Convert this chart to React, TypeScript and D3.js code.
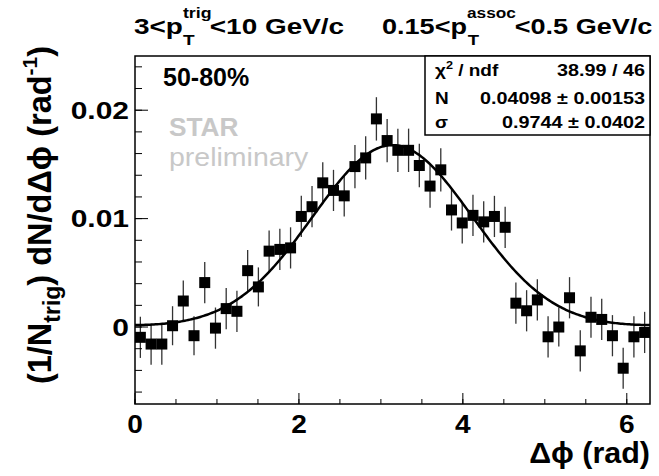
import React from "react";
import * as d3 from "d3";

const W = 659;
const H = 476;
const nBins = 48;
const binCenters = d3.range(nBins).map((i) => ((i + 0.5) * 2 * Math.PI) / nBins);
const yields = [
  -0.00095, -0.00157, -0.00157, 0.00012, 0.0024, -0.0008, 0.0041, -0.0001,
  0.0017, 0.00145, 0.0052, 0.0037, 0.007, 0.00716, 0.0073, 0.0102,
  0.0111, 0.0133, 0.0126, 0.0121, 0.0148, 0.0156, 0.0192, 0.0172,
  0.0163, 0.0163, 0.0149, 0.013, 0.0145, 0.0108, 0.0096, 0.0103,
  0.0097, 0.0102, 0.0092, 0.0022, 0.0015, 0.0025, -0.0009, 0.0,
  0.0027, -0.0022, 0.0009, 0.0007, -0.0008, -0.0038, -0.0009, -0.0005,
];
const errors = [
  0.0019, 0.0019, 0.0019, 0.0018, 0.0019, 0.0018, 0.0019, 0.0019,
  0.0019, 0.0019, 0.0019, 0.0018, 0.0019, 0.0019, 0.0019, 0.0019,
  0.0019, 0.0019, 0.0019, 0.0019, 0.0020, 0.0020, 0.0020, 0.0020,
  0.0020, 0.0020, 0.0020, 0.0020, 0.0020, 0.0019, 0.0019, 0.0019,
  0.0019, 0.0019, 0.0019, 0.0019, 0.0019, 0.0019, 0.0019, 0.0018,
  0.0019, 0.0019, 0.0019, 0.0019, 0.0019, 0.0019, 0.0019, 0.0019,
];
const fitN = 0.04098;
const fitSigma = 0.9744;
const xTicksMajor = [0, 2, 4, 6];
const xTickLabels = ["0", "2", "4", "6"];
const yTicksMajor = [0, 0.01, 0.02];
const yTickLabels = ["0", "0.01", "0.02"];
const statsLabels = ["χ", "N", "σ"];
const statsValues = ["38.99 / 46", "0.04098 ± 0.00153", "0.9744 ± 0.0402"];

const FONT = "'Liberation Sans', Arial, Helvetica, sans-serif";

export default function App() {
  const left = 135, right = 650, top = 56, bottom = 404;
  const x = d3.scaleLinear().domain([0, 2 * Math.PI]).range([left, right]);
  const y = d3.scaleLinear().domain([-0.0071, 0.025]).range([bottom, top]);

  const fit = (p: number) => {
    let s = 0;
    for (let k = -1; k <= 1; k++) {
      const d = p - Math.PI - 2 * Math.PI * k;
      s += Math.exp(-(d * d) / (2 * fitSigma * fitSigma));
    }
    return (fitN / (fitSigma * Math.sqrt(2 * Math.PI))) * s;
  };
  const curvePts = d3.range(0, 301).map((i) => (i / 300) * 2 * Math.PI);
  const line = d3
    .line<number>()
    .x((p) => x(p))
    .y((p) => y(fit(p)))
    .curve(d3.curveLinear);

  const xMinor = d3.range(0, 6.3, 0.5);
  const yMinor = d3.range(-6, 25, 2).map((v) => v / 1000);

  return (
    <svg
      width={W}
      height={H}
      style={{ position: "fixed", left: 0, top: 0, background: "#fff" }}
      fontFamily={FONT}
    >
      <rect x={0} y={0} width={W} height={H} fill="#fff" />
      <defs>
        <clipPath id="frameClip">
          <rect x={left} y={top} width={right - left} height={bottom - top} />
        </clipPath>
      </defs>

      {/* title */}
      <g transform={`translate(134,34) scale(1.27,1)`} fontWeight="bold" fontSize={22}>
        <text x={0} y={0}>
          3&lt;p
          <tspan fontSize={14} dy={-16}>trig</tspan>
          <tspan fontSize={15} dx={-22.5} dy={27}>T</tspan>
          <tspan dx={12} dy={-11}>&lt;10 GeV/c</tspan>
        </text>
      </g>
      <g transform={`translate(382,34) scale(1.23,1)`} fontWeight="bold" fontSize={22}>
        <text x={0} y={0}>
          0.15&lt;p
          <tspan fontSize={14} dy={-16}>assoc</tspan>
          <tspan fontSize={15} dx={-39} dy={27}>T</tspan>
          <tspan dx={29} dy={-11}>&lt;0.5 GeV/c</tspan>
        </text>
      </g>

      {/* y axis title */}
      <g transform={`translate(51,215) rotate(-90)`} fontWeight="bold" fontSize={32.5}>
        <text x={0} y={0} textAnchor="middle">
          (1/N
          <tspan fontSize={23} dy={9}>trig</tspan>
          <tspan dy={-9}>) dN/dΔϕ (rad</tspan>
          <tspan fontSize={21} dy={-14}>-1</tspan>
          <tspan dy={14}>)</tspan>
        </text>
      </g>

      {/* x axis title */}
      <g transform={`translate(650,463) scale(1.05,1)`} fontWeight="bold" fontSize={29}>
        <text x={0} y={0} textAnchor="end">Δϕ (rad)</text>
      </g>

      {/* labels */}
      <g transform={`translate(163,86)`} fontWeight="bold" fontSize={25}>
        <text>50-80%</text>
      </g>
      <g transform={`translate(169,136) scale(1.05,1)`} fontWeight="bold" fontSize={25} fill="#c8c8c8">
        <text>STAR</text>
      </g>
      <g transform={`translate(169,166) scale(1.14,1)`} fontSize={25} fill="#c8c8c8">
        <text>preliminary</text>
      </g>

      {/* data */}
      <g clipPath="url(#frameClip)">
        {binCenters.map((c, i) => (
          <line
            key={"e" + i}
            x1={x(c)}
            x2={x(c)}
            y1={y(yields[i] - errors[i])}
            y2={y(yields[i] + errors[i])}
            stroke="#333"
            strokeWidth={1.3}
          />
        ))}
        {binCenters.map((c, i) => (
          <rect
            key={"m" + i}
            x={x(c) - 5.5}
            y={y(yields[i]) - 5.5}
            width={11}
            height={11}
            fill="#000"
          />
        ))}
        <path d={line(curvePts) || ""} fill="none" stroke="#000" strokeWidth={2.5} />
      </g>

      {/* frame */}
      <rect
        x={left}
        y={top}
        width={right - left}
        height={bottom - top}
        fill="none"
        stroke="#000"
        strokeWidth={1.5}
      />

      {/* x ticks */}
      {xMinor.map((t, i) => (
        <line key={"xm" + i} x1={x(t)} x2={x(t)} y1={bottom} y2={bottom - 5} stroke="#000" strokeWidth={1} />
      ))}
      {xTicksMajor.map((t, i) => (
        <line key={"xM" + i} x1={x(t)} x2={x(t)} y1={bottom} y2={bottom - 11} stroke="#000" strokeWidth={1} />
      ))}
      {xTicksMajor.map((t, i) => (
        <g key={"xl" + i} transform={`translate(${x(t)},433) scale(1.08,1)`} fontWeight="bold" fontSize={26}>
          <text textAnchor="middle">{xTickLabels[i]}</text>
        </g>
      ))}

      {/* y ticks */}
      {yMinor.map((t, i) => (
        <line key={"ym" + i} x1={left} x2={left + 7} y1={y(t)} y2={y(t)} stroke="#000" strokeWidth={1} />
      ))}
      {yTicksMajor.map((t, i) => (
        <line key={"yM" + i} x1={left} x2={left + 13} y1={y(t)} y2={y(t)} stroke="#000" strokeWidth={1} />
      ))}
      {yTicksMajor.map((t, i) => (
        <g key={"yl" + i} transform={`translate(129,${y(t) + 8.5}) scale(1.25,1)`} fontWeight="bold" fontSize={24}>
          <text textAnchor="end">{yTickLabels[i]}</text>
        </g>
      ))}

      {/* stats box */}
      <rect x={425} y={top} width={right - 425} height={79} fill="#fff" stroke="#000" strokeWidth={1.5} />
      {[76, 103.5, 128].map((by, i) => (
        <g key={"s" + i} fontWeight="bold" fontSize={16.5}>
          <g transform={`translate(435,${by}) scale(1.15,1)`}>
            <text>
              {statsLabels[i]}
              {i === 0 ? (
                <>
                  <tspan fontSize={11} dy={-7}>2</tspan>
                  <tspan dy={7}> / ndf</tspan>
                </>
              ) : null}
            </text>
          </g>
          <g transform={`translate(645,${by}) scale(1.2,1)`}>
            <text textAnchor="end">{statsValues[i]}</text>
          </g>
        </g>
      ))}
    </svg>
  );
}
